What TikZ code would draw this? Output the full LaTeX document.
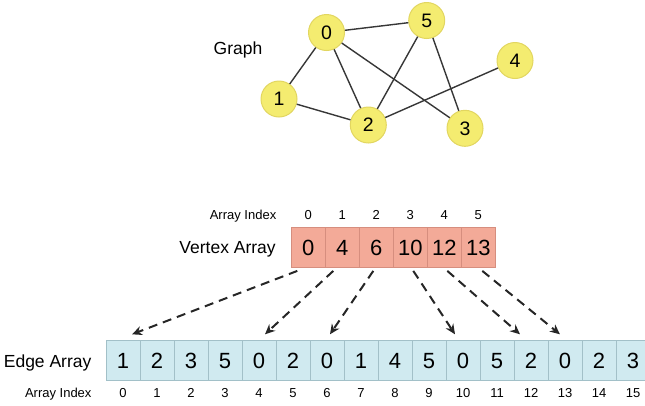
\documentclass[tikz,border=0pt]{standalone}
\usepackage{fontspec}
\setmainfont{Liberation Sans}
\usetikzlibrary{positioning,arrows.meta}

\definecolor{nodeyellow}{RGB}{244,236,112}
\definecolor{nodeedge}{RGB}{226,214,96}
\definecolor{vertexfill}{RGB}{243,170,152}
\definecolor{vertexline}{RGB}{214,142,126}
\definecolor{edgefill}{RGB}{208,234,240}
\definecolor{edgeline}{RGB}{162,192,200}
\definecolor{linkgray}{RGB}{55,55,55}

\begin{document}
\begin{tikzpicture}[
    x=1pt, y=-1pt,
    vertex/.style={
        circle,
        fill=nodeyellow,
        draw=nodeedge,
        line width=1pt,
        minimum size=36pt,
        inner sep=0pt,
        font=\fontsize{19.5}{22}\selectfont
    },
    link/.style={draw=linkgray, line width=1.4pt},
    vcell/.style={
        draw=vertexline,
        fill=vertexfill,
        line width=0.8pt,
        minimum width=34pt,
        minimum height=40pt,
        inner sep=0pt,
        font=\fontsize{22}{26}\selectfont
    },
    ecell/.style={vcell, draw=edgeline, fill=edgefill},
    idx/.style={font=\fontsize{13}{15}\selectfont, inner sep=0pt,
        text height=9.5pt, text depth=0pt},
    title/.style={font=\fontsize{17.5}{21}\selectfont, inner sep=0pt,
        text depth=0pt},
    ptr/.style={-{Stealth[length=10pt,width=9pt]},
        dash pattern=on 9pt off 6pt, line width=2pt, black!85}
]
\useasboundingbox (0,0) rectangle (645,405);

% graph
\node[vertex] (n0) at (326.5,32.5) {0};
\node[vertex] (n5) at (426.7,20.5) {5};
\node[vertex] (n4) at (515,60.5) {4};
\node[vertex] (n1) at (279,99) {1};
\node[vertex] (n2) at (368.3,125) {2};
\node[vertex] (n3) at (465,128.3) {3};
\node[title] (glabel) at (238,48) {Graph};

\draw[link] (n0) -- (n5);
\draw[link] (n0) -- (n1);
\draw[link] (n0) -- (n2);
\draw[link] (n0) -- (n3);
\draw[link] (n5) -- (n2);
\draw[link] (n5) -- (n3);
\draw[link] (n4) -- (n2);
\draw[link] (n1) -- (n2);

% vertex array
\foreach \val [count=\i from 0] in {0,4,6,10,12,13} {
    \node[vcell] (v\i) at (308.3+34*\i,247.5) {\val};
    \node[idx] (vi\i) at (308.3+34*\i,215) {\i};
}
\node[title, left=15pt of v0] (vlabel) {Vertex Array};
\node[idx, left=28pt of vi0] (vidx) {Array Index};

% edge array
\foreach \val [count=\i from 0] in {1,2,3,5,0,2,0,1,4,5,0,5,2,0,2,3} {
    \node[ecell] (e\i) at (123+34*\i,360.7) {\val};
    \node[idx] (ei\i) at (123+34*\i,392.7) {\i};
}
\node[title, left=14pt of e0] (elabel) {Edge Array};
\node[idx, left=27.5pt of ei0] (eidx) {Array Index};

% offsets into the edge array
\foreach \v/\e/\a/\b in {0/0/-11/9, 1/4/-9/6, 2/6/-3/3, 3/10/3/-8, 4/12/3/-11, 5/13/4/-5}
    \draw[ptr] ([xshift=\a pt, yshift=-3pt]v\v.south) -- ([xshift=\b pt, yshift=6pt]e\e.north);

\end{tikzpicture}
\end{document}
